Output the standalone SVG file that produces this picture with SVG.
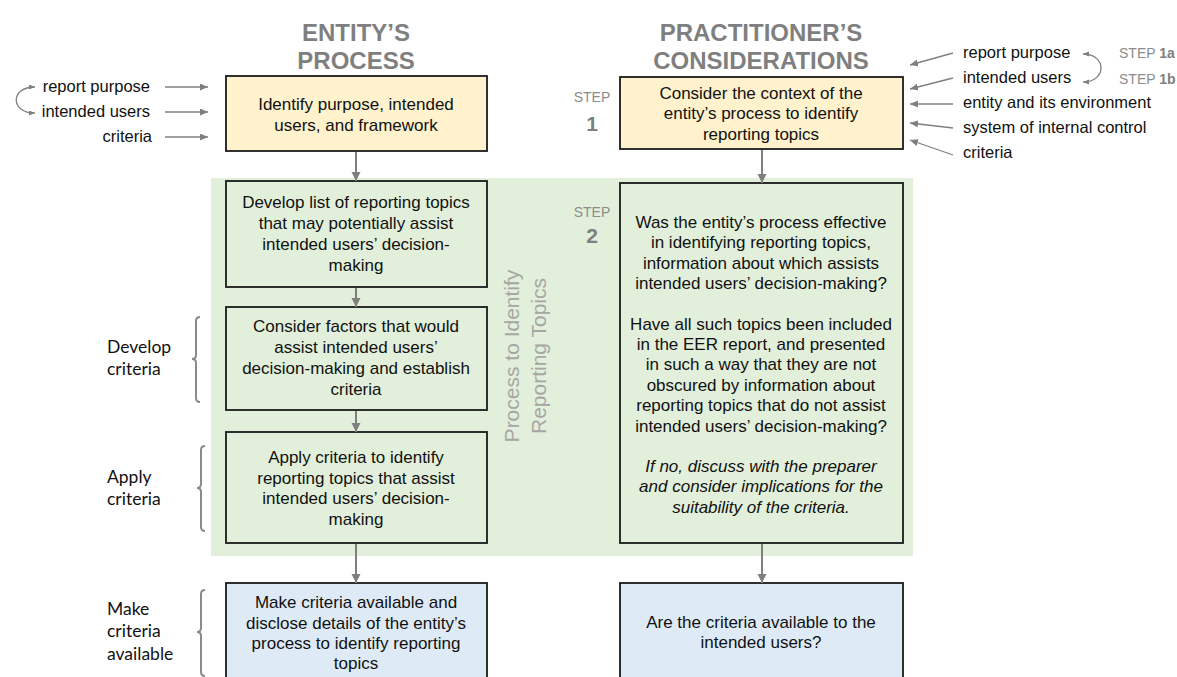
<svg xmlns="http://www.w3.org/2000/svg" width="1177" height="677" viewBox="0 0 1177 677">
<defs>
<style>
.t{font-family:"Liberation Sans",Arial,sans-serif;font-size:17px;fill:#111;text-anchor:middle}
.ti{font-style:italic}
.lab{font-family:"Liberation Sans",Arial,sans-serif;font-size:16.5px;fill:#111}
.side{font-family:Lato,"Open Sans",sans-serif;font-size:17.5px;fill:#111}
.title{font-family:"Liberation Sans",Arial,sans-serif;font-size:24px;font-weight:bold;fill:#7f7f7f;text-anchor:middle}
.step{font-family:"Liberation Sans",Arial,sans-serif;font-size:14px;fill:#8c8c8c}
.num{font-family:"Liberation Sans",Arial,sans-serif;font-size:21px;font-weight:bold;fill:#7f7f7f;text-anchor:middle}
.rot{font-family:"Liberation Sans",Arial,sans-serif;font-size:21px;fill:#a6a6a6;text-anchor:middle}
.box{stroke:#1a1a1a;stroke-width:1.8}
.y{fill:#fff2cc}.g{fill:#e2efda}.b{fill:#deebf7}
.conn{stroke:#7f7f7f;stroke-width:2;fill:none}
.thin{stroke:#7f7f7f;stroke-width:1.3;fill:none}
.br{stroke:#8a8a8a;stroke-width:2;fill:none}
</style>
<marker id="ah" markerUnits="userSpaceOnUse" markerWidth="10" markerHeight="10" refX="9" refY="4.5" orient="auto"><path d="M0,0 L9,4.5 L0,9 z" fill="#7f7f7f"/></marker>
<marker id="as" markerUnits="userSpaceOnUse" markerWidth="9" markerHeight="8" refX="8" refY="3.5" orient="auto"><path d="M0,0 L8,3.5 L0,7 z" fill="#7f7f7f"/></marker>
<marker id="at" markerUnits="userSpaceOnUse" markerWidth="7" markerHeight="6" refX="6" refY="2.5" orient="auto-start-reverse"><path d="M0,0 L6,2.5 L0,5 z" fill="#7f7f7f"/></marker>
</defs>
<rect width="1177" height="677" fill="#fff"/>
<rect id="process-band" x="211" y="178" width="702" height="378" fill="#e2efda"/>

<g id="titles">
<text class="title" x="356" y="41">ENTITY’S</text>
<text class="title" x="356" y="69">PROCESS</text>
<text class="title" x="761" y="41">PRACTITIONER’S</text>
<text class="title" x="761" y="69">CONSIDERATIONS</text>
</g>

<g id="band-label">
<text class="rot" transform="translate(519,356) rotate(-90)">Process to Identify</text>
<text class="rot" transform="translate(546,356) rotate(-90)">Reporting Topics</text>
</g>

<g id="step1">
<text class="step" x="592" y="102" text-anchor="middle">STEP</text>
<text class="num" x="592" y="131">1</text>
</g>
<g id="step2">
<text class="step" x="592" y="217" text-anchor="middle">STEP</text>
<text class="num" x="592" y="243">2</text>
</g>

<g id="inputs-left">
<text class="lab" x="150" y="92" text-anchor="end">report purpose</text>
<text class="lab" x="150" y="117" text-anchor="end">intended users</text>
<text class="lab" x="152" y="142" text-anchor="end">criteria</text>
</g>

<g id="inputs-right">
<text class="lab" x="963" y="58">report purpose</text>
<text class="lab" x="963" y="83">intended users</text>
<text class="lab" x="963" y="108">entity and its environment</text>
<text class="lab" x="963" y="133">system of internal control</text>
<text class="lab" x="963" y="158">criteria</text>
<text class="step" x="1119" y="58">STEP <tspan font-weight="bold" fill="#7f7f7f">1a</tspan></text>
<text class="step" x="1119" y="84">STEP <tspan font-weight="bold" fill="#7f7f7f">1b</tspan></text>
</g>

<g id="side-labels">
<text class="side" x="107" y="353">Develop</text>
<text class="side" x="107" y="375">criteria</text>
<text class="side" x="107" y="483">Apply</text>
<text class="side" x="107" y="505">criteria</text>
<text class="side" x="107" y="615">Make</text>
<text class="side" x="107" y="637">criteria</text>
<text class="side" x="107" y="660">available</text>
<path class="br" d="M200,317 Q196,317 196,321 L196,355 Q196,359 192,359 Q196,359 196,363 L196,398 Q196,402 200,402"/>
<path class="br" d="M205,446 Q201,446 201,450 L201,484 Q201,488 197,488 Q201,488 201,492 L201,527 Q201,531 205,531"/>
<path class="br" d="M205,590 Q201,590 201,594 L201,628 Q201,632 197,632 Q201,632 201,636 L201,672 Q201,676 205,676"/>
</g>

<g id="n-identify">
<rect class="box y" x="226" y="76" width="261" height="75"/>
<text class="t" x="356" y="110">Identify purpose, intended</text>
<text class="t" x="356" y="131">users, and framework</text>
</g>

<g id="n-develop-list">
<rect class="box g" x="226" y="181" width="261" height="106"/>
<text class="t" x="356" y="208">Develop list of reporting topics</text>
<text class="t" x="356" y="229">that may potentially assist</text>
<text class="t" x="356" y="250">intended users’ decision-</text>
<text class="t" x="356" y="271">making</text>
</g>

<g id="n-consider-factors">
<rect class="box g" x="226" y="307" width="261" height="103"/>
<text class="t" x="356" y="332">Consider factors that would</text>
<text class="t" x="356" y="353">assist intended users’</text>
<text class="t" x="356" y="374">decision-making and establish</text>
<text class="t" x="356" y="395">criteria</text>
</g>

<g id="n-apply">
<rect class="box g" x="226" y="432" width="261" height="111"/>
<text class="t" x="356" y="463">Apply criteria to identify</text>
<text class="t" x="356" y="484">reporting topics that assist</text>
<text class="t" x="356" y="504">intended users’ decision-</text>
<text class="t" x="356" y="525">making</text>
</g>

<g id="n-make-available">
<rect class="box b" x="226" y="583" width="261" height="110"/>
<text class="t" x="356" y="608">Make criteria available and</text>
<text class="t" x="356" y="629">disclose details of the entity’s</text>
<text class="t" x="356" y="649">process to identify reporting</text>
<text class="t" x="356" y="669">topics</text>
</g>

<g id="n-context">
<rect class="box y" x="620" y="77" width="283" height="72"/>
<text class="t" x="761" y="99">Consider the context of the</text>
<text class="t" x="761" y="119">entity’s process to identify</text>
<text class="t" x="761" y="140">reporting topics</text>
</g>

<g id="n-effective">
<rect class="box g" x="620" y="183" width="283" height="360"/>
<text class="t" x="761" y="228">Was the entity’s process effective</text>
<text class="t" x="761" y="248.4">in identifying reporting topics,</text>
<text class="t" x="761" y="268.8">information about which assists</text>
<text class="t" x="761" y="289.2">intended users’ decision-making?</text>
<text class="t" x="761" y="329.6">Have all such topics been included</text>
<text class="t" x="761" y="350">in the EER report, and presented</text>
<text class="t" x="761" y="370.4">in such a way that they are not</text>
<text class="t" x="761" y="390.8">obscured by information about</text>
<text class="t" x="761" y="411.2">reporting topics that do not assist</text>
<text class="t" x="761" y="431.6">intended users’ decision-making?</text>
<text class="t ti" x="761" y="472">If no, discuss with the preparer</text>
<text class="t ti" x="761" y="492.4">and consider implications for the</text>
<text class="t ti" x="761" y="512.8">suitability of the criteria.</text>
</g>

<g id="n-available">
<rect class="box b" x="620" y="583" width="283" height="110"/>
<text class="t" x="761" y="628">Are the criteria available to the</text>
<text class="t" x="761" y="648">intended users?</text>
</g>

<g id="connectors">
<line class="conn" x1="356" y1="152" x2="356" y2="181" marker-end="url(#ah)"/>
<line class="conn" x1="356" y1="288" x2="356" y2="307" marker-end="url(#ah)"/>
<line class="conn" x1="356" y1="411" x2="356" y2="432" marker-end="url(#ah)"/>
<line class="conn" x1="356" y1="544" x2="356" y2="583" marker-end="url(#ah)"/>
<line class="conn" x1="762" y1="150" x2="762" y2="183" marker-end="url(#ah)"/>
<line class="conn" x1="762" y1="544" x2="762" y2="583" marker-end="url(#ah)"/>
<line class="thin" x1="165" y1="87" x2="208" y2="87" marker-end="url(#as)"/>
<line class="thin" x1="165" y1="112" x2="208" y2="112" marker-end="url(#as)"/>
<line class="thin" x1="165" y1="137" x2="208" y2="137" marker-end="url(#as)"/>
<path class="thin" d="M35,87 C10,87 10,113 35,113" marker-start="url(#at)" marker-end="url(#at)"/>
<line class="thin" x1="953" y1="53" x2="910" y2="65" marker-end="url(#as)"/>
<line class="thin" x1="953" y1="78" x2="910" y2="89" marker-end="url(#as)"/>
<line class="thin" x1="953" y1="104" x2="910" y2="104" marker-end="url(#as)"/>
<line class="thin" x1="953" y1="128" x2="910" y2="123" marker-end="url(#as)"/>
<line class="thin" x1="953" y1="155" x2="910" y2="140" marker-end="url(#as)"/>
<path class="thin" d="M1083,54 C1107,54 1107,82 1083,82" marker-start="url(#at)" marker-end="url(#at)"/>
</g>
</svg>
